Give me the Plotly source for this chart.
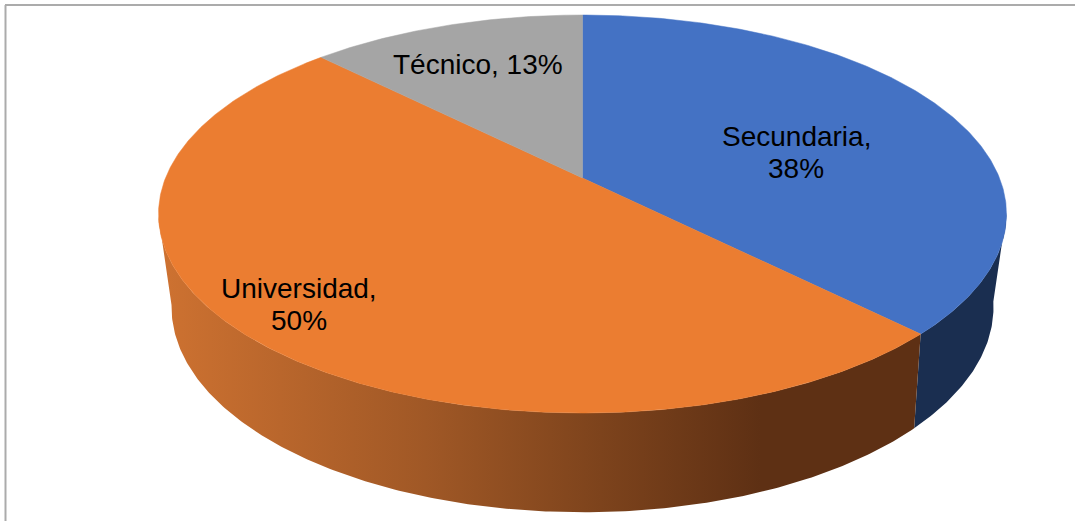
import numpy as np
import plotly.graph_objects as go

# Education level shares, in percent
categories = ["Secundaria", "Universidad", "Técnico"]
shares = [37.5, 50.0, 12.5]

TOP_COLORS = ["#4472C4", "#EB7D31", "#A5A5A5"]
WALL_BLUE = "#1A2E50"
WALL_ORANGE_SCALE = [
    [0.00, "#CE7231"], [0.35, "#A05826"], [0.58, "#7D431C"],
    [0.79, "#5E3014"], [1.00, "#5E3014"],
]
FRAME_COLOR = "#ABABAB"

# Perspective disc: (centre x, centre y, x scale, y scale, foreshortening)
TOP_DISC = (582.5, 178.0, 417.0, 192.5, 0.181)
BASE_DISC = (582.5, 266.0, 402.7, 197.0, 0.200)


def disc_point(disc, clockwise_deg):
    """Project a point on the disc rim; the angle runs clockwise from 12 o'clock."""
    cx, cy, ax, ay, k = disc
    t = np.radians(clockwise_deg)
    px, py = np.sin(t), -np.cos(t)
    w = 1 - k * py
    return cx + ax * px / w, cy + ay * py / w


def arc(disc, start, stop):
    n = max(int(abs(stop - start) * 2), 2)
    return disc_point(disc, np.linspace(start, stop, n))


def half_up(v):
    return int(np.floor(v + 0.5))


total = sum(shares)
edges = np.concatenate([[0.0], np.cumsum(shares)]) / total * 360.0

fig = go.Figure()


def add_wall(start, stop, **style):
    tx, ty = arc(TOP_DISC, start, stop)
    bx, by = arc(BASE_DISC, start, stop)
    fig.add_trace(go.Scatter(
        x=np.concatenate([tx, bx[::-1], tx[:1]]),
        y=np.concatenate([ty, by[::-1], ty[:1]]),
        mode="lines", fill="toself", line=dict(width=0),
        hoverinfo="skip", showlegend=False, **style,
    ))


# Visible side walls, from the right silhouette round to the left one
add_wall(100.0, edges[1], fillcolor=WALL_BLUE)
add_wall(edges[1], 259.0, fillgradient=dict(
    type="horizontal", colorscale=WALL_ORANGE_SCALE))

# Top surface slices
for name, color, a, b in zip(categories, TOP_COLORS, edges[:-1], edges[1:]):
    rx, ry = arc(TOP_DISC, a, b)
    cx, cy = TOP_DISC[0], TOP_DISC[1]
    fig.add_trace(go.Scatter(
        x=np.concatenate([[cx], rx, [cx]]),
        y=np.concatenate([[cy], ry, [cy]]),
        mode="lines", fill="toself", fillcolor=color,
        line=dict(width=0.5, color=color),
        name=name, hoverinfo="name", showlegend=False,
    ))

# Data labels, one annotation per line to hold the tight line spacing
percent = [f"{half_up(s / total * 100)}%" for s in shares]
label_lines = [
    (796, 136, f"{categories[0]},"), (796, 168, percent[0]),
    (299, 288, f"{categories[1]},"), (299, 320, percent[1]),
    (478, 64, f"{categories[2]}, {percent[2]}"),
]
for lx, ly, text in label_lines:
    fig.add_annotation(
        x=lx, y=ly, text=text, showarrow=False, xanchor="center", yanchor="middle",
        font=dict(family="Liberation Sans, Arial, sans-serif", size=28, color="#000000"),
    )

# Chart frame: only the top and left edges fall inside the canvas
fig.add_shape(type="line", x0=5, y0=5, x1=1075, y1=5,
              line=dict(color=FRAME_COLOR, width=2), layer="below")
fig.add_shape(type="line", x0=5.5, y0=5, x1=5.5, y1=521,
              line=dict(color=FRAME_COLOR, width=2), layer="below")

fig.update_layout(
    width=1075, height=521, margin=dict(l=0, r=0, t=0, b=0),
    paper_bgcolor="#FFFFFF", plot_bgcolor="#FFFFFF", showlegend=False,
    xaxis=dict(range=[0, 1075], visible=False, fixedrange=True),
    yaxis=dict(range=[521, 0], visible=False, fixedrange=True),
)
fig.write_html("out.html", config=dict(displayModeBar=False))
